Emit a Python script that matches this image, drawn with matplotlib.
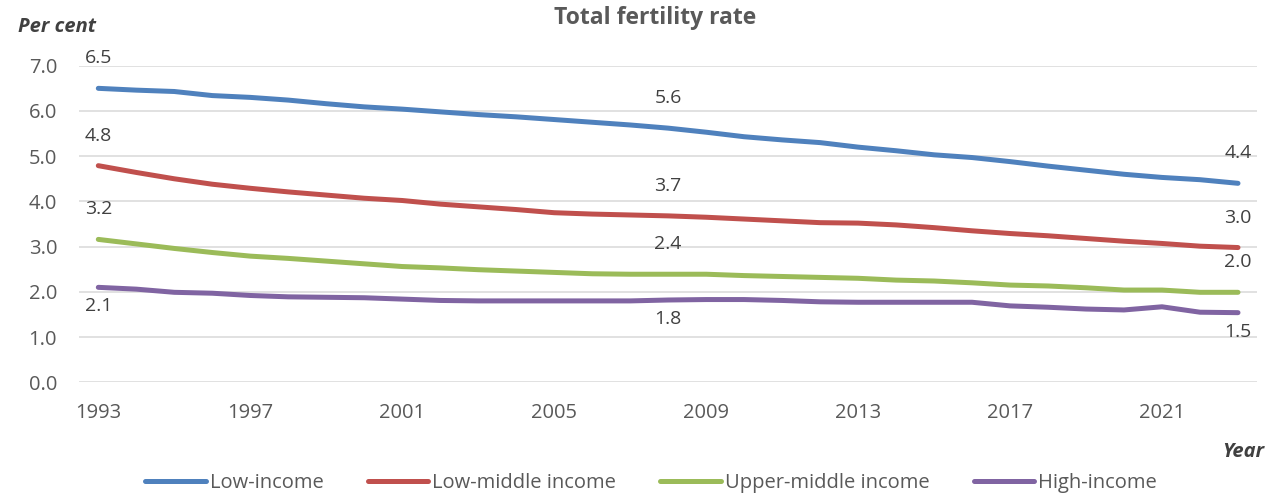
import matplotlib.pyplot as plt
import numpy as np

years = list(range(1993, 2024))

low_income = [6.50, 6.46, 6.43, 6.34, 6.30, 6.24, 6.16, 6.09, 6.04, 5.98,
              5.92, 5.87, 5.81, 5.75, 5.69, 5.62, 5.53, 5.43, 5.36, 5.30,
              5.20, 5.12, 5.03, 4.97, 4.88, 4.78, 4.69, 4.60, 4.53, 4.48, 4.40]
low_middle = [4.79, 4.64, 4.50, 4.38, 4.29, 4.21, 4.14, 4.07, 4.02, 3.94,
              3.88, 3.82, 3.75, 3.72, 3.70, 3.68, 3.65, 3.61, 3.57, 3.53,
              3.52, 3.48, 3.42, 3.35, 3.29, 3.24, 3.18, 3.12, 3.07, 3.01, 2.98]
upper_middle = [3.16, 3.06, 2.96, 2.87, 2.79, 2.74, 2.68, 2.62, 2.56, 2.53,
                2.49, 2.46, 2.43, 2.40, 2.39, 2.39, 2.39, 2.36, 2.34, 2.32,
                2.30, 2.26, 2.24, 2.20, 2.15, 2.13, 2.09, 2.04, 2.04, 1.99, 1.99]
high_income = [2.10, 2.06, 1.99, 1.97, 1.92, 1.89, 1.88, 1.87, 1.84, 1.81,
               1.80, 1.80, 1.80, 1.80, 1.80, 1.82, 1.83, 1.83, 1.81, 1.78,
               1.77, 1.77, 1.77, 1.77, 1.69, 1.66, 1.62, 1.60, 1.67, 1.55, 1.54]

series_names = ['Low-income', 'Low-middle income', 'Upper-middle income', 'High-income']
colors = ['#4F81BD', '#C0504D', '#9BBB59', '#8064A2']
# labelled points: first year, 2008, last year
label_years = [1993, 2008, 2023]

plt.rcParams['font.family'] = ['Open Sans', 'DejaVu Sans']

fig = plt.figure(figsize=(12.67, 4.96), dpi=100)
ax = fig.add_axes([0.0626, 0.2292, 0.9295, 0.6383])

x = np.arange(len(years))
all_series = [low_income, low_middle, upper_middle, high_income]
for vals, name, c in zip(all_series, series_names, colors):
    ax.plot(x, vals, color=c, lw=3.6, solid_capstyle='round',
            solid_joinstyle='round', label=name)

for k, (vals, c) in enumerate(zip(all_series, colors)):
    dy = -19 if k == 3 else 30
    for yr in label_years:
        i = years.index(yr)
        ax.annotate(f'{vals[i]:.1f}', (x[i], vals[i]), xytext=(0, dy),
                    textcoords='offset pixels', ha='center', va='center',
                    fontsize=14, color='#404040')

ax.set_xlim(-0.5, len(years) - 0.5)
ax.set_ylim(0, 7)
ax.set_yticks(np.arange(0, 7.5, 1.0))
ax.set_yticklabels([f'{v:.1f}' for v in np.arange(0, 7.5, 1.0)])
tick_pos = x[::4]
ax.set_xticks(tick_pos)
ax.set_xticklabels([str(years[i]) for i in tick_pos])
ax.tick_params(axis='both', length=0, labelsize=14.5, labelcolor='#595959')
ax.tick_params(axis='y', pad=16)
ax.tick_params(axis='x', pad=15)
ax.grid(axis='y', color='#D9D9D9', lw=1.1)
ax.set_axisbelow(True)
for s in ax.spines.values():
    s.set_visible(False)

fig.text(0.5170, 1 - 18 / 496, 'Total fertility rate', ha='center', va='center',
         fontsize=16.5, fontweight='bold', color='#595959')
fig.text(18 / 1267, 1 - 27 / 496, 'Per cent', ha='left', va='center',
         fontsize=14.5, fontweight='bold', style='italic', color='#404040')
fig.text(1264 / 1267, 1 - 452 / 496, 'Year', ha='right', va='center',
         fontsize=14.5, fontweight='bold', style='italic', color='#404040')

fig.legend(loc='center', bbox_to_anchor=(651 / 1267, 1 - 483 / 496), ncol=4,
           frameon=False, fontsize=14.5, handlelength=3.0, handletextpad=0.2,
           columnspacing=2.2, labelcolor='#595959')

fig.savefig('out.png', dpi=100)
